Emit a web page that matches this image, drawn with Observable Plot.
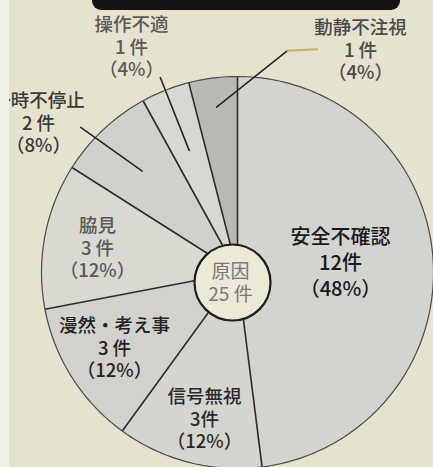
<!DOCTYPE html>
<html><head><meta charset="utf-8">
<script src="https://cdn.jsdelivr.net/npm/d3@7"></script>
<script src="https://cdn.jsdelivr.net/npm/@observablehq/plot@0.6"></script>
<style>
html,body{margin:0;padding:0;background:#e5e3cd;}
#wrap{position:relative;width:433px;height:467px;overflow:hidden;background:#e5e3cd;}
#wrap svg{position:absolute;left:0;top:0;}
#banner{position:absolute;left:92px;top:-14px;width:308px;height:24px;background:#141414;border-radius:9px;z-index:2;}
#edge{position:absolute;left:0;top:0;width:9px;height:467px;background:#f1f0e6;z-index:1;}
g[aria-label="main-label"] text{letter-spacing:2.5px;}
g[aria-label="labels"] text{letter-spacing:1.5px;}
</style></head>
<body><div id="wrap"><div id="banner"></div><div id="edge"></div></div>
<script>
// ---- data ----
const categories = ["安全不確認", "信号無視", "漫然・考え事", "脇見", "一時不停止", "操作不適", "動静不注視"];
const counts = [12, 3, 3, 3, 2, 1, 1];
const percents = [48, 12, 12, 12, 8, 4, 4];
const centerTitle = "原因";
const total = 25;
const unit = "件";

// ---- layout / style (not data) ----
const W = 433, H = 467, R = 196, CX = 237, CY = 272;
const shades = ["#d3d3cf", "#d5d5d0", "#d2d2cd", "#d9d9d2", "#d1d1cc", "#d8d8d2", "#b8b8b4"];
const textColors = ["#1a1a1a", "#2a2a2a", "#222222", "#5a5a5a", "#3a3a3a", "#5a5a5a", "#4a4a4a"];
const labelPx = [[340, 261], [204, 418], [114, 347], [97, 247], [38, 122], [131, 46], [360, 49]];
const unitSep = ["", "", " ", " ", " ", " ", " "];

const rad = a => a * Math.PI / 180;
const px2x = px => (px - CX) / R;
const py2y = py => (CY - py) / R;
const polar = (a, r) => ({x: r * Math.sin(rad(a)), y: r * Math.cos(rad(a))});

let acc = 0;
const slices = categories.map((c, i) => {
  const a0 = acc / total * 360; acc += counts[i];
  const a1 = acc / total * 360;
  return {c, i, a0, a1, mid: (a0 + a1) / 2, shade: shades[i]};
});

const slicePts = slices.flatMap(s => {
  const n = Math.max(2, Math.ceil(s.a1 - s.a0));
  const arr = [{c: s.c, x: 0, y: 0, fill: s.shade}];
  for (let k = 0; k <= n; k++) {
    const p = polar(s.a0 + (s.a1 - s.a0) * k / n, 1);
    arr.push({c: s.c, x: p.x, y: p.y, fill: s.shade});
  }
  return arr;
});

const bounds = slices.map(s => ({...polar(s.a0, 1)}));
const circle = d3.range(0, 361, 1).map(a => polar(a, 1));

// leader lines (computed from slice mid-angles)
const byName = Object.fromEntries(slices.map(s => [s.c, s]));
const leaders = [
  {id: "a", ...polar(byName["操作不適"].mid, 0.67)}, {id: "a", ...polar(byName["操作不適"].mid, 1.07)},
  {id: "b", ...polar(byName["一時不停止"].mid, 0.71)}, {id: "b", ...polar(byName["一時不停止"].mid - 4, 1.09)},
  {id: "c", ...polar(byName["動静不注視"].mid, 0.85)}, {id: "c", ...polar(12.7, 1.16)}
];
const leaderTail = [{id: "d", ...polar(12.7, 1.16)}, {id: "d", ...polar(19.7, 1.21)}];

const labels = slices.map((s, i) => ({
  x: px2x(labelPx[i][0]), y: py2y(labelPx[i][1]),
  text: `${s.c}\n${counts[i]}${unitSep[i]}${unit}\n（${percents[i]}%）`,
  color: textColors[i], main: i === 0
}));

const font = "'Noto Sans CJK JP', 'Noto Sans CJK SC', sans-serif";

const chart = Plot.plot({
  width: W, height: H,
  margin: 0,
  x: {domain: [px2x(0), px2x(W)], axis: null},
  y: {domain: [py2y(H), py2y(0)], axis: null},
  color: {type: "identity"},
  style: {background: "transparent", fontFamily: font},
  marks: [
    Plot.line(slicePts, {x: "x", y: "y", z: "c", fill: "fill", stroke: "none", curve: "linear-closed"}),
    Plot.link(bounds, {x1: 0, y1: 0, x2: "x", y2: "y", stroke: "#2b2b2b", strokeWidth: 1.6}),
    Plot.line(circle, {x: "x", y: "y", stroke: "#4a4a48", strokeWidth: 1.2}),
    Plot.line(leaders, {x: "x", y: "y", z: "id", stroke: "#262626", strokeWidth: 1.6}),
    Plot.line(leaderTail, {x: "x", y: "y", z: "id", stroke: "#c2b46e", strokeWidth: 2}),
    Plot.dot([{x: 0, y: 0}], {x: "x", y: "y", r: 38, dx: -5, dy: 10, fill: "#ebead6", stroke: "#1e1e1e", strokeWidth: 2.2}),
    Plot.text([{x: 0, y: 0}], {x: "x", y: "y", dx: -7, dy: 10, text: () => `${centerTitle}\n${total} ${unit}`,
      fontSize: 19, lineHeight: 1.2, fill: "#777", lineAnchor: "middle", textAnchor: "middle"}),
    Plot.text(labels.filter(d => d.main), {x: "x", y: "y", text: "text", fill: "color", fontSize: 20,
      lineHeight: 1.32, lineAnchor: "middle", textAnchor: "middle", fontWeight: 500, ariaLabel: "main-label"}),
    Plot.text(labels.filter(d => !d.main), {x: "x", y: "y", text: "text", fill: "color", fontSize: 18.5,
      lineHeight: 1.2, lineAnchor: "middle", textAnchor: "middle", fontWeight: 500, ariaLabel: "labels"})
  ]
});
document.getElementById("wrap").appendChild(chart);
</script>
</body></html>
